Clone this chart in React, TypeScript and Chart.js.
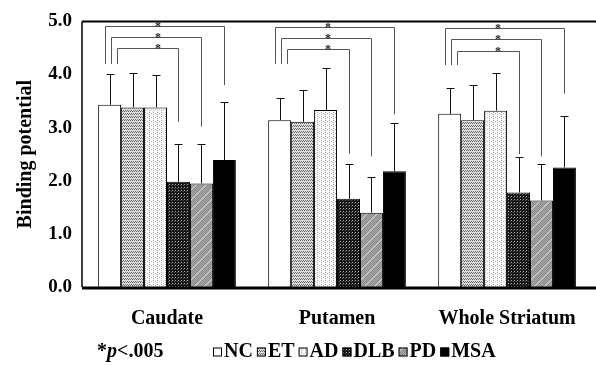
import React, { useEffect, useRef } from 'react';
import { Chart, registerables } from 'chart.js';

Chart.register(...registerables);

const categories = ['Caudate', 'Putamen', 'Whole Striatum'];
const seriesNames = ['NC', 'ET', 'AD', 'DLB', 'PD', 'MSA'];

const NC = [3.43, 3.14, 3.26];
const ET = [3.38, 3.11, 3.14];
const AD = [3.38, 3.33, 3.32];
const DLB = [1.98, 1.66, 1.78];
const PD = [1.95, 1.40, 1.63];
const MSA = [2.39, 2.18, 2.25];

const NC_SD = [0.58, 0.41, 0.48];
const ET_SD = [0.64, 0.60, 0.66];
const AD_SD = [0.61, 0.80, 0.70];
const DLB_SD = [0.72, 0.65, 0.66];
const PD_SD = [0.74, 0.67, 0.69];
const MSA_SD = [1.09, 0.91, 0.97];

const yTickLabels = ['0.0', '1.0', '2.0', '3.0', '4.0', '5.0'];

// significance brackets (NC vs DLB, NC vs PD, NC vs MSA), in data units
const bracketTargets = [3, 4, 5];
const bracketTopDLB = [4.50, 4.48, 4.45];
const bracketTopPD = [4.70, 4.68, 4.67];
const bracketTopMSA = [4.91, 4.89, 4.88];
const bracketLeftEnd = [4.20, 4.20, 4.18];
const bracketRightDLB = [3.11, 2.51, 2.50];
const bracketRightPD = [3.02, 2.46, 2.46];
const bracketRightMSA = [3.80, 3.25, 3.64];
const sigNote = '<.005';

const FONT = '"Liberation Serif", "Times New Roman", serif';

function makePattern(kind: string): CanvasPattern | string {
  const c = document.createElement('canvas');
  const g = c.getContext('2d')!;
  const px = (x: number, y: number, col: string) => { g.fillStyle = col; g.fillRect(x, y, 1, 1); };
  if (kind === 'NC') return '#ffffff';
  if (kind === 'MSA') return '#000000';
  if (kind === 'ET') {
    c.width = 4; c.height = 3;
    g.fillStyle = '#dedede'; g.fillRect(0, 0, 4, 3);
    px(0, 0, '#5a5a5a'); px(2, 0, '#6a6a6a'); px(1, 2, '#777'); px(3, 2, '#666');
  } else if (kind === 'AD') {
    c.width = 4; c.height = 4;
    g.fillStyle = '#f8f8f8'; g.fillRect(0, 0, 4, 4);
    px(1, 0, '#a8a8a8'); px(1, 2, '#b5b5b5'); px(3, 1, '#c4c4c4');
  } else if (kind === 'DLB') {
    c.width = 3; c.height = 3;
    g.fillStyle = '#151515'; g.fillRect(0, 0, 3, 3);
    px(1, 1, '#b0b0b0'); px(0, 2, '#5a5a5a');
  } else if (kind === 'PD') {
    c.width = 10; c.height = 10;
    for (let x = 0; x < 10; x++) {
      for (let y = 0; y < 10; y++) {
        let col = (x + y) % 2 === 0 ? '#858585' : '#adadad';
        if ((x + y) % 10 === 0) col = '#cfcfcf';
        px(x, y, col);
      }
    }
  }
  return g.createPattern(c, 'repeat')!;
}

export default function App() {
  const ref = useRef<HTMLCanvasElement | null>(null);

  useEffect(() => {
    const canvas = ref.current;
    if (!canvas) return;
    const values = [NC, ET, AD, DLB, PD, MSA];
    const errors = [NC_SD, ET_SD, AD_SD, DLB_SD, PD_SD, MSA_SD];
    const fills = seriesNames.map((s) => makePattern(s));
    const tops = [bracketTopDLB, bracketTopPD, bracketTopMSA];
    const rights = [bracketRightDLB, bracketRightPD, bracketRightMSA];
    const leftFrac = [0.8, 0.55, 0.3];

    const overlay = {
      id: 'overlay',
      afterDatasetsDraw(chart: any) {
        const ctx = chart.ctx;
        const ys = chart.scales.y;
        const xs = chart.scales.x;
        const area = chart.chartArea;
        ctx.save();
        // error bars
        ctx.strokeStyle = '#111';
        ctx.lineWidth = 1;
        values.forEach((vals, di) => {
          const meta = chart.getDatasetMeta(di);
          meta.data.forEach((bar: any, i: number) => {
            const yTop = Math.round(ys.getPixelForValue(vals[i] + errors[di][i])) + 0.5;
            const x = Math.round(bar.x) + 0.5;
            ctx.beginPath();
            ctx.moveTo(x, bar.y);
            ctx.lineTo(x, yTop);
            ctx.moveTo(x - 4, yTop);
            ctx.lineTo(x + 4, yTop);
            ctx.stroke();
          });
        });
        // brackets
        ctx.strokeStyle = '#555';
        ctx.fillStyle = '#222';
        ctx.font = 'bold 12px ' + FONT;
        ctx.textAlign = 'center';
        ctx.textBaseline = 'alphabetic';
        const ncMeta = chart.getDatasetMeta(0);
        categories.forEach((_, i) => {
          const nc: any = ncMeta.data[i];
          const ncLeft = nc.x - nc.width / 2;
          bracketTargets.forEach((t, k) => {
            const tb: any = chart.getDatasetMeta(t).data[i];
            const lx = Math.round(ncLeft + nc.width * leftFrac[k]) + 0.5;
            const rx = Math.round(tb.x) + 0.5;
            const ty = Math.round(ys.getPixelForValue(tops[k][i])) + 0.5;
            ctx.beginPath();
            ctx.moveTo(lx, ys.getPixelForValue(bracketLeftEnd[i]));
            ctx.lineTo(lx, ty);
            ctx.lineTo(rx, ty);
            ctx.lineTo(rx, ys.getPixelForValue(rights[k][i]));
            ctx.stroke();
            ctx.fillText('*', xs.getPixelForValue(i) - 9, ty + 3);
          });
        });
        // frame
        ctx.strokeStyle = '#000';
        ctx.lineWidth = 2;
        ctx.beginPath();
        ctx.moveTo(area.left, area.top);
        ctx.lineTo(chart.width, area.top);
        ctx.stroke();
        ctx.lineWidth = 3;
        ctx.beginPath();
        ctx.moveTo(area.left, area.bottom + 1);
        ctx.lineTo(chart.width, area.bottom + 1);
        ctx.stroke();
        ctx.lineWidth = 1.5;
        ctx.beginPath();
        ctx.moveTo(area.left, area.top);
        ctx.lineTo(area.left, area.bottom);
        ctx.stroke();
        // legend
        const ly = 352;
        ctx.fillStyle = '#000';
        ctx.textAlign = 'left';
        ctx.textBaseline = 'middle';
        let x = 97;
        ctx.font = 'bold 20px ' + FONT;
        ctx.fillText('*', x, ly);
        x += ctx.measureText('*').width;
        ctx.font = 'bold italic 20px ' + FONT;
        ctx.fillText('p', x, ly);
        x += ctx.measureText('p').width;
        ctx.font = 'bold 20px ' + FONT;
        ctx.fillText(sigNote, x, ly);
        x = 213;
        seriesNames.forEach((name, si) => {
          ctx.fillStyle = fills[si] as any;
          ctx.fillRect(x, ly - 4.5, 9, 9);
          ctx.strokeStyle = '#000';
          ctx.lineWidth = 1;
          ctx.strokeRect(x + 0.5, ly - 4, 8, 8);
          x += 11;
          ctx.fillStyle = '#000';
          ctx.fillText(name, x, ly);
          x += ctx.measureText(name).width + 4;
        });
        ctx.restore();
      },
    };

    const chart = new Chart(canvas, {
      type: 'bar',
      data: {
        labels: categories,
        datasets: seriesNames.map((name, si) => ({
          label: name,
          data: values[si],
          backgroundColor: fills[si] as any,
          borderColor: '#000',
          borderWidth: 1,
          categoryPercentage: 0.81,
          barPercentage: 1.0,
        })),
      },
      options: {
        responsive: false,
        animation: false,
        layout: { padding: { top: 15, right: 2, left: 0, bottom: 0 } },
        plugins: {
          legend: { display: false },
          tooltip: { enabled: false },
        },
        scales: {
          x: {
            grid: { display: false, drawTicks: false },
            border: { display: false },
            ticks: {
              color: '#000',
              padding: 20,
              font: { family: FONT, size: 20, weight: 'bold' },
            },
            afterFit: (s: any) => { s.height = 78; },
          },
          y: {
            min: 0,
            max: 5,
            grid: { display: false, drawTicks: false },
            border: { display: false },
            ticks: {
              stepSize: 1,
              color: '#000',
              padding: 10,
              font: { family: FONT, size: 19, weight: 'bold' },
              callback: (_v: any, i: number) => yTickLabels[i],
            },
            title: {
              display: true,
              text: 'Binding potential',
              color: '#000',
              padding: { top: 14, bottom: 0 },
              font: { family: FONT, size: 20, weight: 'bold' },
            },
            afterFit: (s: any) => { s.width = 82; },
          },
        },
      },
      plugins: [overlay],
    });
    return () => chart.destroy();
  }, []);

  return (
    <div style={{ position: 'fixed', left: 0, top: 0, width: 596, height: 365, background: '#fff' }}>
      <canvas ref={ref} width={596} height={365} />
    </div>
  );
}
